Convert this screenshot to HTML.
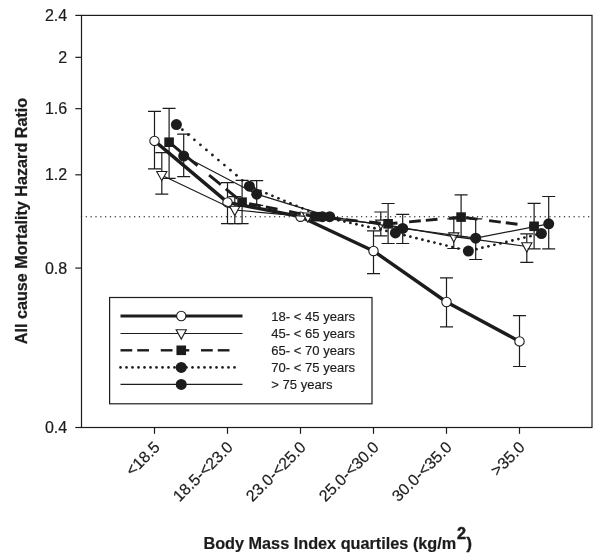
<!DOCTYPE html>
<html><head><meta charset="utf-8"><title>Chart</title><style>html,body{margin:0;padding:0;background:#fff}body{width:600px;height:557px;overflow:hidden;font-family:"Liberation Sans",sans-serif}</style></head><body>
<svg width="600" height="557" viewBox="0 0 600 557" style="display:block;filter:grayscale(1)">
<rect width="600" height="557" fill="#fff"/>
<g font-family="Liberation Sans, sans-serif" fill="#1c1c1c">
<rect x="80.90" y="216.05" width="1.2" height="1.3" fill="#3a3a3a"/>
<rect x="85.73" y="216.05" width="1.2" height="1.3" fill="#3a3a3a"/>
<rect x="90.56" y="216.05" width="1.2" height="1.3" fill="#3a3a3a"/>
<rect x="95.39" y="216.05" width="1.2" height="1.3" fill="#3a3a3a"/>
<rect x="100.22" y="216.05" width="1.2" height="1.3" fill="#3a3a3a"/>
<rect x="105.05" y="216.05" width="1.2" height="1.3" fill="#3a3a3a"/>
<rect x="109.88" y="216.05" width="1.2" height="1.3" fill="#3a3a3a"/>
<rect x="114.71" y="216.05" width="1.2" height="1.3" fill="#3a3a3a"/>
<rect x="119.54" y="216.05" width="1.2" height="1.3" fill="#3a3a3a"/>
<rect x="124.37" y="216.05" width="1.2" height="1.3" fill="#3a3a3a"/>
<rect x="129.20" y="216.05" width="1.2" height="1.3" fill="#3a3a3a"/>
<rect x="134.03" y="216.05" width="1.2" height="1.3" fill="#3a3a3a"/>
<rect x="138.86" y="216.05" width="1.2" height="1.3" fill="#3a3a3a"/>
<rect x="143.69" y="216.05" width="1.2" height="1.3" fill="#3a3a3a"/>
<rect x="148.52" y="216.05" width="1.2" height="1.3" fill="#3a3a3a"/>
<rect x="153.35" y="216.05" width="1.2" height="1.3" fill="#3a3a3a"/>
<rect x="158.18" y="216.05" width="1.2" height="1.3" fill="#3a3a3a"/>
<rect x="163.01" y="216.05" width="1.2" height="1.3" fill="#3a3a3a"/>
<rect x="167.84" y="216.05" width="1.2" height="1.3" fill="#3a3a3a"/>
<rect x="172.67" y="216.05" width="1.2" height="1.3" fill="#3a3a3a"/>
<rect x="177.50" y="216.05" width="1.2" height="1.3" fill="#3a3a3a"/>
<rect x="182.33" y="216.05" width="1.2" height="1.3" fill="#3a3a3a"/>
<rect x="187.16" y="216.05" width="1.2" height="1.3" fill="#3a3a3a"/>
<rect x="191.99" y="216.05" width="1.2" height="1.3" fill="#3a3a3a"/>
<rect x="196.82" y="216.05" width="1.2" height="1.3" fill="#3a3a3a"/>
<rect x="201.65" y="216.05" width="1.2" height="1.3" fill="#3a3a3a"/>
<rect x="206.48" y="216.05" width="1.2" height="1.3" fill="#3a3a3a"/>
<rect x="211.31" y="216.05" width="1.2" height="1.3" fill="#3a3a3a"/>
<rect x="216.14" y="216.05" width="1.2" height="1.3" fill="#3a3a3a"/>
<rect x="220.97" y="216.05" width="1.2" height="1.3" fill="#3a3a3a"/>
<rect x="225.80" y="216.05" width="1.2" height="1.3" fill="#3a3a3a"/>
<rect x="230.63" y="216.05" width="1.2" height="1.3" fill="#3a3a3a"/>
<rect x="235.46" y="216.05" width="1.2" height="1.3" fill="#3a3a3a"/>
<rect x="240.29" y="216.05" width="1.2" height="1.3" fill="#3a3a3a"/>
<rect x="245.12" y="216.05" width="1.2" height="1.3" fill="#3a3a3a"/>
<rect x="249.95" y="216.05" width="1.2" height="1.3" fill="#3a3a3a"/>
<rect x="254.78" y="216.05" width="1.2" height="1.3" fill="#3a3a3a"/>
<rect x="259.61" y="216.05" width="1.2" height="1.3" fill="#3a3a3a"/>
<rect x="264.44" y="216.05" width="1.2" height="1.3" fill="#3a3a3a"/>
<rect x="269.27" y="216.05" width="1.2" height="1.3" fill="#3a3a3a"/>
<rect x="274.10" y="216.05" width="1.2" height="1.3" fill="#3a3a3a"/>
<rect x="278.93" y="216.05" width="1.2" height="1.3" fill="#3a3a3a"/>
<rect x="283.76" y="216.05" width="1.2" height="1.3" fill="#3a3a3a"/>
<rect x="288.59" y="216.05" width="1.2" height="1.3" fill="#3a3a3a"/>
<rect x="293.42" y="216.05" width="1.2" height="1.3" fill="#3a3a3a"/>
<rect x="298.25" y="216.05" width="1.2" height="1.3" fill="#3a3a3a"/>
<rect x="303.08" y="216.05" width="1.2" height="1.3" fill="#3a3a3a"/>
<rect x="307.91" y="216.05" width="1.2" height="1.3" fill="#3a3a3a"/>
<rect x="312.74" y="216.05" width="1.2" height="1.3" fill="#3a3a3a"/>
<rect x="317.57" y="216.05" width="1.2" height="1.3" fill="#3a3a3a"/>
<rect x="322.40" y="216.05" width="1.2" height="1.3" fill="#3a3a3a"/>
<rect x="327.23" y="216.05" width="1.2" height="1.3" fill="#3a3a3a"/>
<rect x="332.06" y="216.05" width="1.2" height="1.3" fill="#3a3a3a"/>
<rect x="336.89" y="216.05" width="1.2" height="1.3" fill="#3a3a3a"/>
<rect x="341.72" y="216.05" width="1.2" height="1.3" fill="#3a3a3a"/>
<rect x="346.55" y="216.05" width="1.2" height="1.3" fill="#3a3a3a"/>
<rect x="351.38" y="216.05" width="1.2" height="1.3" fill="#3a3a3a"/>
<rect x="356.21" y="216.05" width="1.2" height="1.3" fill="#3a3a3a"/>
<rect x="361.04" y="216.05" width="1.2" height="1.3" fill="#3a3a3a"/>
<rect x="365.87" y="216.05" width="1.2" height="1.3" fill="#3a3a3a"/>
<rect x="370.70" y="216.05" width="1.2" height="1.3" fill="#3a3a3a"/>
<rect x="375.53" y="216.05" width="1.2" height="1.3" fill="#3a3a3a"/>
<rect x="380.36" y="216.05" width="1.2" height="1.3" fill="#3a3a3a"/>
<rect x="385.19" y="216.05" width="1.2" height="1.3" fill="#3a3a3a"/>
<rect x="390.02" y="216.05" width="1.2" height="1.3" fill="#3a3a3a"/>
<rect x="394.85" y="216.05" width="1.2" height="1.3" fill="#3a3a3a"/>
<rect x="399.68" y="216.05" width="1.2" height="1.3" fill="#3a3a3a"/>
<rect x="404.51" y="216.05" width="1.2" height="1.3" fill="#3a3a3a"/>
<rect x="409.34" y="216.05" width="1.2" height="1.3" fill="#3a3a3a"/>
<rect x="414.17" y="216.05" width="1.2" height="1.3" fill="#3a3a3a"/>
<rect x="419.00" y="216.05" width="1.2" height="1.3" fill="#3a3a3a"/>
<rect x="423.83" y="216.05" width="1.2" height="1.3" fill="#3a3a3a"/>
<rect x="428.66" y="216.05" width="1.2" height="1.3" fill="#3a3a3a"/>
<rect x="433.49" y="216.05" width="1.2" height="1.3" fill="#3a3a3a"/>
<rect x="438.32" y="216.05" width="1.2" height="1.3" fill="#3a3a3a"/>
<rect x="443.15" y="216.05" width="1.2" height="1.3" fill="#3a3a3a"/>
<rect x="447.98" y="216.05" width="1.2" height="1.3" fill="#3a3a3a"/>
<rect x="452.81" y="216.05" width="1.2" height="1.3" fill="#3a3a3a"/>
<rect x="457.64" y="216.05" width="1.2" height="1.3" fill="#3a3a3a"/>
<rect x="462.47" y="216.05" width="1.2" height="1.3" fill="#3a3a3a"/>
<rect x="467.30" y="216.05" width="1.2" height="1.3" fill="#3a3a3a"/>
<rect x="472.13" y="216.05" width="1.2" height="1.3" fill="#3a3a3a"/>
<rect x="476.96" y="216.05" width="1.2" height="1.3" fill="#3a3a3a"/>
<rect x="481.79" y="216.05" width="1.2" height="1.3" fill="#3a3a3a"/>
<rect x="486.62" y="216.05" width="1.2" height="1.3" fill="#3a3a3a"/>
<rect x="491.45" y="216.05" width="1.2" height="1.3" fill="#3a3a3a"/>
<rect x="496.28" y="216.05" width="1.2" height="1.3" fill="#3a3a3a"/>
<rect x="501.11" y="216.05" width="1.2" height="1.3" fill="#3a3a3a"/>
<rect x="505.94" y="216.05" width="1.2" height="1.3" fill="#3a3a3a"/>
<rect x="510.77" y="216.05" width="1.2" height="1.3" fill="#3a3a3a"/>
<rect x="515.60" y="216.05" width="1.2" height="1.3" fill="#3a3a3a"/>
<rect x="520.43" y="216.05" width="1.2" height="1.3" fill="#3a3a3a"/>
<rect x="525.26" y="216.05" width="1.2" height="1.3" fill="#3a3a3a"/>
<rect x="530.09" y="216.05" width="1.2" height="1.3" fill="#3a3a3a"/>
<rect x="534.92" y="216.05" width="1.2" height="1.3" fill="#3a3a3a"/>
<rect x="539.75" y="216.05" width="1.2" height="1.3" fill="#3a3a3a"/>
<rect x="544.58" y="216.05" width="1.2" height="1.3" fill="#3a3a3a"/>
<rect x="549.41" y="216.05" width="1.2" height="1.3" fill="#3a3a3a"/>
<rect x="554.24" y="216.05" width="1.2" height="1.3" fill="#3a3a3a"/>
<rect x="559.07" y="216.05" width="1.2" height="1.3" fill="#3a3a3a"/>
<rect x="563.90" y="216.05" width="1.2" height="1.3" fill="#3a3a3a"/>
<rect x="568.73" y="216.05" width="1.2" height="1.3" fill="#3a3a3a"/>
<rect x="573.56" y="216.05" width="1.2" height="1.3" fill="#3a3a3a"/>
<rect x="578.39" y="216.05" width="1.2" height="1.3" fill="#3a3a3a"/>
<rect x="583.22" y="216.05" width="1.2" height="1.3" fill="#3a3a3a"/>
<rect x="588.05" y="216.05" width="1.2" height="1.3" fill="#3a3a3a"/>
<rect x="81.50" y="15.40" width="510.50" height="412.10" fill="none" stroke="#1c1c1c" stroke-width="1.2"/>
<line x1="75.3" x2="81.50" y1="15.40" y2="15.40" stroke="#1c1c1c" stroke-width="1.2"/>
<text x="67.2" y="20.90" font-size="16" text-anchor="end" stroke="#1c1c1c" stroke-width="0.2">2.4</text>
<line x1="75.3" x2="81.50" y1="57.33" y2="57.33" stroke="#1c1c1c" stroke-width="1.2"/>
<text x="67.2" y="62.83" font-size="16" text-anchor="end" stroke="#1c1c1c" stroke-width="0.2">2</text>
<line x1="75.3" x2="81.50" y1="108.66" y2="108.66" stroke="#1c1c1c" stroke-width="1.2"/>
<text x="67.2" y="114.16" font-size="16" text-anchor="end" stroke="#1c1c1c" stroke-width="0.2">1.6</text>
<line x1="75.3" x2="81.50" y1="174.82" y2="174.82" stroke="#1c1c1c" stroke-width="1.2"/>
<text x="67.2" y="180.32" font-size="16" text-anchor="end" stroke="#1c1c1c" stroke-width="0.2">1.2</text>
<line x1="75.3" x2="81.50" y1="268.08" y2="268.08" stroke="#1c1c1c" stroke-width="1.2"/>
<text x="67.2" y="273.58" font-size="16" text-anchor="end" stroke="#1c1c1c" stroke-width="0.2">0.8</text>
<line x1="75.3" x2="81.50" y1="427.50" y2="427.50" stroke="#1c1c1c" stroke-width="1.2"/>
<text x="67.2" y="433.00" font-size="16" text-anchor="end" stroke="#1c1c1c" stroke-width="0.2">0.4</text>
<line x1="154.50" x2="154.50" y1="427.50" y2="433.8" stroke="#1c1c1c" stroke-width="1.2"/>
<text transform="translate(160.90 448.2) rotate(-45)" font-size="16" text-anchor="end" stroke="#1c1c1c" stroke-width="0.2">&lt;18.5</text>
<line x1="227.50" x2="227.50" y1="427.50" y2="433.8" stroke="#1c1c1c" stroke-width="1.2"/>
<text transform="translate(233.90 448.2) rotate(-45)" font-size="16" text-anchor="end" stroke="#1c1c1c" stroke-width="0.2">18.5-&lt;23.0</text>
<line x1="300.50" x2="300.50" y1="427.50" y2="433.8" stroke="#1c1c1c" stroke-width="1.2"/>
<text transform="translate(306.90 448.2) rotate(-45)" font-size="16" text-anchor="end" stroke="#1c1c1c" stroke-width="0.2">23.0-&lt;25.0</text>
<line x1="373.50" x2="373.50" y1="427.50" y2="433.8" stroke="#1c1c1c" stroke-width="1.2"/>
<text transform="translate(379.90 448.2) rotate(-45)" font-size="16" text-anchor="end" stroke="#1c1c1c" stroke-width="0.2">25.0-&lt;30.0</text>
<line x1="446.50" x2="446.50" y1="427.50" y2="433.8" stroke="#1c1c1c" stroke-width="1.2"/>
<text transform="translate(452.90 448.2) rotate(-45)" font-size="16" text-anchor="end" stroke="#1c1c1c" stroke-width="0.2">30.0-&lt;35.0</text>
<line x1="519.50" x2="519.50" y1="427.50" y2="433.8" stroke="#1c1c1c" stroke-width="1.2"/>
<text transform="translate(525.90 448.2) rotate(-45)" font-size="16" text-anchor="end" stroke="#1c1c1c" stroke-width="0.2">&gt;35.0</text>
<text transform="translate(26.6 221) rotate(-90)" font-size="16.2" font-weight="bold" text-anchor="middle" stroke="#1c1c1c" stroke-width="0.25">All cause Mortality Hazard Ratio</text>
<text x="203.4" y="548.8" font-size="16.25" font-weight="bold" stroke="#1c1c1c" stroke-width="0.2">Body Mass Index quartiles (kg/m<tspan dy="-9.9" dx="0.8" stroke-width="0.5">2</tspan><tspan dy="9.9" dx="0.3" stroke-width="0.45">)</tspan></text>
<polyline fill="none" stroke="#1c1c1c" stroke-width="3.4" stroke-linejoin="round" points="154.50,140.90 227.50,202.40 300.50,216.70 373.50,251.00 446.50,302.00 519.50,341.40"/>
<path d="M154.50 111.30V168.80M148.00 111.30H161.00M148.00 168.80H161.00" stroke="#1c1c1c" stroke-width="1.2" fill="none"/>
<path d="M227.50 182.60V223.60M221.00 182.60H234.00M221.00 223.60H234.00" stroke="#1c1c1c" stroke-width="1.2" fill="none"/>
<path d="M373.50 230.90V273.60M367.00 230.90H380.00M367.00 273.60H380.00" stroke="#1c1c1c" stroke-width="1.2" fill="none"/>
<path d="M446.50 277.80V326.80M440.00 277.80H453.00M440.00 326.80H453.00" stroke="#1c1c1c" stroke-width="1.2" fill="none"/>
<path d="M519.50 315.60V366.50M513.00 315.60H526.00M513.00 366.50H526.00" stroke="#1c1c1c" stroke-width="1.2" fill="none"/>
<circle cx="154.50" cy="140.90" r="4.7" fill="#fff" stroke="#1c1c1c" stroke-width="1.1"/>
<circle cx="227.50" cy="202.40" r="4.7" fill="#fff" stroke="#1c1c1c" stroke-width="1.1"/>
<circle cx="300.50" cy="216.70" r="4.7" fill="#fff" stroke="#1c1c1c" stroke-width="1.1"/>
<circle cx="373.50" cy="251.00" r="4.7" fill="#fff" stroke="#1c1c1c" stroke-width="1.1"/>
<circle cx="446.50" cy="302.00" r="4.7" fill="#fff" stroke="#1c1c1c" stroke-width="1.1"/>
<circle cx="519.50" cy="341.40" r="4.7" fill="#fff" stroke="#1c1c1c" stroke-width="1.1"/>
<polyline fill="none" stroke="#1c1c1c" stroke-width="1.25" points="161.80,175.20 234.80,210.00 307.80,216.70 380.80,223.80 453.80,236.60 526.80,246.50"/>
<path d="M161.80 152.60V194.10M155.30 152.60H168.30M155.30 194.10H168.30" stroke="#1c1c1c" stroke-width="1.2" fill="none"/>
<path d="M234.80 196.70V223.60M228.30 196.70H241.30M228.30 223.60H241.30" stroke="#1c1c1c" stroke-width="1.2" fill="none"/>
<path d="M380.80 212.00V235.90M374.30 212.00H387.30M374.30 235.90H387.30" stroke="#1c1c1c" stroke-width="1.2" fill="none"/>
<path d="M453.80 218.80V248.50M447.30 218.80H460.30M447.30 248.50H460.30" stroke="#1c1c1c" stroke-width="1.2" fill="none"/>
<path d="M526.80 233.80V262.40M520.30 233.80H533.30M520.30 262.40H533.30" stroke="#1c1c1c" stroke-width="1.2" fill="none"/>
<path d="M156.70 171.50H166.90L161.80 180.70Z" fill="#fff" stroke="#1c1c1c" stroke-width="1.1"/>
<path d="M229.70 206.30H239.90L234.80 215.50Z" fill="#fff" stroke="#1c1c1c" stroke-width="1.1"/>
<path d="M302.70 213.00H312.90L307.80 222.20Z" fill="#fff" stroke="#1c1c1c" stroke-width="1.1"/>
<path d="M375.70 220.10H385.90L380.80 229.30Z" fill="#fff" stroke="#1c1c1c" stroke-width="1.1"/>
<path d="M448.70 232.90H458.90L453.80 242.10Z" fill="#fff" stroke="#1c1c1c" stroke-width="1.1"/>
<path d="M521.70 242.80H531.90L526.80 252.00Z" fill="#fff" stroke="#1c1c1c" stroke-width="1.1"/>
<polyline fill="none" stroke="#1c1c1c" stroke-width="2.9" points="169.10,142.20 180.80,151.82"/>
<polyline fill="none" stroke="#1c1c1c" stroke-width="2.9" points="185.80,155.93 197.50,165.54"/>
<polyline fill="none" stroke="#1c1c1c" stroke-width="2.9" points="209.10,175.08 220.80,184.69"/>
<polyline fill="none" stroke="#1c1c1c" stroke-width="2.9" points="225.80,188.80 237.50,198.42"/>
<polyline fill="none" stroke="#1c1c1c" stroke-width="2.9" points="249.10,203.59 260.80,205.91"/>
<polyline fill="none" stroke="#1c1c1c" stroke-width="2.9" points="265.80,206.91 277.50,209.23"/>
<polyline fill="none" stroke="#1c1c1c" stroke-width="2.9" points="289.10,211.54 300.80,213.86"/>
<polyline fill="none" stroke="#1c1c1c" stroke-width="2.9" points="305.80,214.85 315.10,216.70 317.50,216.93"/>
<polyline fill="none" stroke="#1c1c1c" stroke-width="2.9" points="329.10,218.06 340.80,219.20"/>
<polyline fill="none" stroke="#1c1c1c" stroke-width="2.9" points="345.80,219.69 357.50,220.82"/>
<polyline fill="none" stroke="#1c1c1c" stroke-width="2.9" points="369.10,221.95 380.80,223.09"/>
<polyline fill="none" stroke="#1c1c1c" stroke-width="2.9" points="385.80,223.58 388.10,223.80 397.50,222.94"/>
<polyline fill="none" stroke="#1c1c1c" stroke-width="2.9" points="409.10,221.87 420.80,220.80"/>
<polyline fill="none" stroke="#1c1c1c" stroke-width="2.9" points="425.80,220.34 437.50,219.27"/>
<polyline fill="none" stroke="#1c1c1c" stroke-width="2.9" points="449.10,218.20 460.80,217.13"/>
<polyline fill="none" stroke="#1c1c1c" stroke-width="2.9" points="465.80,217.69 477.50,219.17"/>
<polyline fill="none" stroke="#1c1c1c" stroke-width="2.9" points="489.10,220.63 500.80,222.10"/>
<polyline fill="none" stroke="#1c1c1c" stroke-width="2.9" points="505.80,222.73 517.50,224.21"/>
<polyline fill="none" stroke="#1c1c1c" stroke-width="2.9" points="529.10,225.67 534.10,226.30"/>
<path d="M169.10 108.40V178.30M162.60 108.40H175.60M162.60 178.30H175.60" stroke="#1c1c1c" stroke-width="1.2" fill="none"/>
<path d="M242.10 180.30V223.60M235.60 180.30H248.60M235.60 223.60H248.60" stroke="#1c1c1c" stroke-width="1.2" fill="none"/>
<path d="M388.10 203.50V243.50M381.60 203.50H394.60M381.60 243.50H394.60" stroke="#1c1c1c" stroke-width="1.2" fill="none"/>
<path d="M461.10 194.90V237.00M454.60 194.90H467.60M454.60 237.00H467.60" stroke="#1c1c1c" stroke-width="1.2" fill="none"/>
<path d="M534.10 203.30V248.90M527.60 203.30H540.60M527.60 248.90H540.60" stroke="#1c1c1c" stroke-width="1.2" fill="none"/>
<rect x="164.30" y="137.40" width="9.6" height="9.6" fill="#1c1c1c"/>
<rect x="237.30" y="197.40" width="9.6" height="9.6" fill="#1c1c1c"/>
<rect x="310.30" y="211.90" width="9.6" height="9.6" fill="#1c1c1c"/>
<rect x="383.30" y="219.00" width="9.6" height="9.6" fill="#1c1c1c"/>
<rect x="456.30" y="212.30" width="9.6" height="9.6" fill="#1c1c1c"/>
<rect x="529.30" y="221.50" width="9.6" height="9.6" fill="#1c1c1c"/>
<circle cx="176.40" cy="124.60" r="1.4" fill="#1c1c1c"/>
<circle cx="182.40" cy="129.66" r="1.4" fill="#1c1c1c"/>
<circle cx="188.40" cy="134.73" r="1.4" fill="#1c1c1c"/>
<circle cx="194.40" cy="139.79" r="1.4" fill="#1c1c1c"/>
<circle cx="200.40" cy="144.85" r="1.4" fill="#1c1c1c"/>
<circle cx="206.40" cy="149.92" r="1.4" fill="#1c1c1c"/>
<circle cx="212.40" cy="154.98" r="1.4" fill="#1c1c1c"/>
<circle cx="218.40" cy="160.04" r="1.4" fill="#1c1c1c"/>
<circle cx="224.40" cy="165.10" r="1.4" fill="#1c1c1c"/>
<circle cx="230.40" cy="170.17" r="1.4" fill="#1c1c1c"/>
<circle cx="236.40" cy="175.23" r="1.4" fill="#1c1c1c"/>
<circle cx="242.40" cy="180.29" r="1.4" fill="#1c1c1c"/>
<circle cx="248.40" cy="185.36" r="1.4" fill="#1c1c1c"/>
<circle cx="254.40" cy="188.29" r="1.4" fill="#1c1c1c"/>
<circle cx="260.40" cy="190.80" r="1.4" fill="#1c1c1c"/>
<circle cx="266.40" cy="193.30" r="1.4" fill="#1c1c1c"/>
<circle cx="272.40" cy="195.81" r="1.4" fill="#1c1c1c"/>
<circle cx="278.40" cy="198.32" r="1.4" fill="#1c1c1c"/>
<circle cx="284.40" cy="200.82" r="1.4" fill="#1c1c1c"/>
<circle cx="290.40" cy="203.33" r="1.4" fill="#1c1c1c"/>
<circle cx="296.40" cy="205.84" r="1.4" fill="#1c1c1c"/>
<circle cx="302.40" cy="208.34" r="1.4" fill="#1c1c1c"/>
<circle cx="308.40" cy="210.85" r="1.4" fill="#1c1c1c"/>
<circle cx="314.40" cy="213.36" r="1.4" fill="#1c1c1c"/>
<circle cx="320.40" cy="215.86" r="1.4" fill="#1c1c1c"/>
<circle cx="326.40" cy="217.59" r="1.4" fill="#1c1c1c"/>
<circle cx="332.40" cy="218.92" r="1.4" fill="#1c1c1c"/>
<circle cx="338.40" cy="220.25" r="1.4" fill="#1c1c1c"/>
<circle cx="344.40" cy="221.58" r="1.4" fill="#1c1c1c"/>
<circle cx="350.40" cy="222.91" r="1.4" fill="#1c1c1c"/>
<circle cx="356.40" cy="224.25" r="1.4" fill="#1c1c1c"/>
<circle cx="362.40" cy="225.58" r="1.4" fill="#1c1c1c"/>
<circle cx="368.40" cy="226.91" r="1.4" fill="#1c1c1c"/>
<circle cx="374.40" cy="228.24" r="1.4" fill="#1c1c1c"/>
<circle cx="380.40" cy="229.57" r="1.4" fill="#1c1c1c"/>
<circle cx="386.40" cy="230.90" r="1.4" fill="#1c1c1c"/>
<circle cx="392.40" cy="232.23" r="1.4" fill="#1c1c1c"/>
<circle cx="398.40" cy="233.65" r="1.4" fill="#1c1c1c"/>
<circle cx="404.40" cy="235.14" r="1.4" fill="#1c1c1c"/>
<circle cx="410.40" cy="236.64" r="1.4" fill="#1c1c1c"/>
<circle cx="416.40" cy="238.14" r="1.4" fill="#1c1c1c"/>
<circle cx="422.40" cy="239.63" r="1.4" fill="#1c1c1c"/>
<circle cx="428.40" cy="241.13" r="1.4" fill="#1c1c1c"/>
<circle cx="434.40" cy="242.62" r="1.4" fill="#1c1c1c"/>
<circle cx="440.40" cy="244.12" r="1.4" fill="#1c1c1c"/>
<circle cx="446.40" cy="245.62" r="1.4" fill="#1c1c1c"/>
<circle cx="452.40" cy="247.11" r="1.4" fill="#1c1c1c"/>
<circle cx="458.40" cy="248.61" r="1.4" fill="#1c1c1c"/>
<circle cx="464.40" cy="250.10" r="1.4" fill="#1c1c1c"/>
<circle cx="470.40" cy="250.62" r="1.4" fill="#1c1c1c"/>
<circle cx="476.40" cy="249.17" r="1.4" fill="#1c1c1c"/>
<circle cx="482.40" cy="247.72" r="1.4" fill="#1c1c1c"/>
<circle cx="488.40" cy="246.28" r="1.4" fill="#1c1c1c"/>
<circle cx="494.40" cy="244.83" r="1.4" fill="#1c1c1c"/>
<circle cx="500.40" cy="243.38" r="1.4" fill="#1c1c1c"/>
<circle cx="506.40" cy="241.94" r="1.4" fill="#1c1c1c"/>
<circle cx="512.40" cy="240.49" r="1.4" fill="#1c1c1c"/>
<circle cx="518.40" cy="239.05" r="1.4" fill="#1c1c1c"/>
<circle cx="524.40" cy="237.60" r="1.4" fill="#1c1c1c"/>
<circle cx="530.40" cy="236.15" r="1.4" fill="#1c1c1c"/>
<circle cx="536.40" cy="234.71" r="1.4" fill="#1c1c1c"/>
<circle cx="176.40" cy="124.60" r="5.5" fill="#1c1c1c"/>
<circle cx="249.40" cy="186.20" r="5.5" fill="#1c1c1c"/>
<circle cx="322.40" cy="216.70" r="5.5" fill="#1c1c1c"/>
<circle cx="395.40" cy="232.90" r="5.5" fill="#1c1c1c"/>
<circle cx="468.40" cy="251.10" r="5.5" fill="#1c1c1c"/>
<circle cx="541.40" cy="233.50" r="5.5" fill="#1c1c1c"/>
<polyline fill="none" stroke="#1c1c1c" stroke-width="1.25" points="183.70,156.00 256.70,194.20 329.70,216.70 402.70,228.40 475.70,238.20 548.70,223.80"/>
<path d="M183.70 134.10V176.70M177.20 134.10H190.20M177.20 176.70H190.20" stroke="#1c1c1c" stroke-width="1.2" fill="none"/>
<path d="M256.70 180.70V205.30M250.20 180.70H263.20M250.20 205.30H263.20" stroke="#1c1c1c" stroke-width="1.2" fill="none"/>
<path d="M402.70 214.40V243.50M396.20 214.40H409.20M396.20 243.50H409.20" stroke="#1c1c1c" stroke-width="1.2" fill="none"/>
<path d="M475.70 218.80V259.50M469.20 218.80H482.20M469.20 259.50H482.20" stroke="#1c1c1c" stroke-width="1.2" fill="none"/>
<path d="M548.70 196.50V248.90M542.20 196.50H555.20M542.20 248.90H555.20" stroke="#1c1c1c" stroke-width="1.2" fill="none"/>
<circle cx="183.70" cy="156.00" r="5.5" fill="#1c1c1c"/>
<circle cx="256.70" cy="194.20" r="5.5" fill="#1c1c1c"/>
<circle cx="329.70" cy="216.70" r="5.5" fill="#1c1c1c"/>
<circle cx="402.70" cy="228.40" r="5.5" fill="#1c1c1c"/>
<circle cx="475.70" cy="238.20" r="5.5" fill="#1c1c1c"/>
<circle cx="548.70" cy="223.80" r="5.5" fill="#1c1c1c"/>
<rect x="109.6" y="297.5" width="262.4" height="106.3" fill="#fff" stroke="#1c1c1c" stroke-width="1.2"/>
<line x1="120.5" x2="242.5" y1="316" y2="316" stroke="#1c1c1c" stroke-width="3"/>
<circle cx="181.25" cy="316.00" r="4.7" fill="#fff" stroke="#1c1c1c" stroke-width="1.1"/>
<line x1="120.5" x2="242.5" y1="333.5" y2="333.5" stroke="#1c1c1c" stroke-width="1.1"/>
<path d="M176.15 329.80H186.35L181.25 339.00Z" fill="#fff" stroke="#1c1c1c" stroke-width="1.1"/>
<polyline fill="none" stroke="#1c1c1c" stroke-width="2.4" points="120.50,350.30 132.25,350.30"/>
<polyline fill="none" stroke="#1c1c1c" stroke-width="2.4" points="137.25,350.30 149.00,350.30"/>
<polyline fill="none" stroke="#1c1c1c" stroke-width="2.4" points="160.75,350.30 172.50,350.30"/>
<polyline fill="none" stroke="#1c1c1c" stroke-width="2.4" points="177.50,350.30 189.25,350.30"/>
<polyline fill="none" stroke="#1c1c1c" stroke-width="2.4" points="201.00,350.30 212.75,350.30"/>
<polyline fill="none" stroke="#1c1c1c" stroke-width="2.4" points="217.75,350.30 229.50,350.30"/>
<rect x="176.45" y="345.50" width="9.6" height="9.6" fill="#1c1c1c"/>
<circle cx="120.50" cy="367.40" r="1.3" fill="#1c1c1c"/>
<circle cx="126.50" cy="367.40" r="1.3" fill="#1c1c1c"/>
<circle cx="132.50" cy="367.40" r="1.3" fill="#1c1c1c"/>
<circle cx="138.50" cy="367.40" r="1.3" fill="#1c1c1c"/>
<circle cx="144.50" cy="367.40" r="1.3" fill="#1c1c1c"/>
<circle cx="150.50" cy="367.40" r="1.3" fill="#1c1c1c"/>
<circle cx="156.50" cy="367.40" r="1.3" fill="#1c1c1c"/>
<circle cx="162.50" cy="367.40" r="1.3" fill="#1c1c1c"/>
<circle cx="168.50" cy="367.40" r="1.3" fill="#1c1c1c"/>
<circle cx="174.50" cy="367.40" r="1.3" fill="#1c1c1c"/>
<circle cx="180.50" cy="367.40" r="1.3" fill="#1c1c1c"/>
<circle cx="186.50" cy="367.40" r="1.3" fill="#1c1c1c"/>
<circle cx="192.50" cy="367.40" r="1.3" fill="#1c1c1c"/>
<circle cx="198.50" cy="367.40" r="1.3" fill="#1c1c1c"/>
<circle cx="204.50" cy="367.40" r="1.3" fill="#1c1c1c"/>
<circle cx="210.50" cy="367.40" r="1.3" fill="#1c1c1c"/>
<circle cx="216.50" cy="367.40" r="1.3" fill="#1c1c1c"/>
<circle cx="222.50" cy="367.40" r="1.3" fill="#1c1c1c"/>
<circle cx="228.50" cy="367.40" r="1.3" fill="#1c1c1c"/>
<circle cx="234.50" cy="367.40" r="1.3" fill="#1c1c1c"/>
<circle cx="181.25" cy="367.40" r="5.5" fill="#1c1c1c"/>
<line x1="120.5" x2="242.5" y1="384.4" y2="384.4" stroke="#1c1c1c" stroke-width="1.1"/>
<circle cx="181.25" cy="384.40" r="5.5" fill="#1c1c1c"/>
<text x="271.3" y="320.80" font-size="12.3" textLength="83.8" lengthAdjust="spacingAndGlyphs" stroke="#1c1c1c" stroke-width="0.15">18- &lt; 45 years</text>
<text x="271.3" y="337.80" font-size="12.3" textLength="83.8" lengthAdjust="spacingAndGlyphs" stroke="#1c1c1c" stroke-width="0.15">45- &lt; 65 years</text>
<text x="271.3" y="354.70" font-size="12.3" textLength="83.8" lengthAdjust="spacingAndGlyphs" stroke="#1c1c1c" stroke-width="0.15">65- &lt; 70 years</text>
<text x="271.3" y="371.70" font-size="12.3" textLength="83.8" lengthAdjust="spacingAndGlyphs" stroke="#1c1c1c" stroke-width="0.15">70- &lt; 75 years</text>
<text x="271.3" y="388.70" font-size="12.3" textLength="61.2" lengthAdjust="spacingAndGlyphs" stroke="#1c1c1c" stroke-width="0.15">&gt; 75 years</text>
</g></svg>
</body></html>
